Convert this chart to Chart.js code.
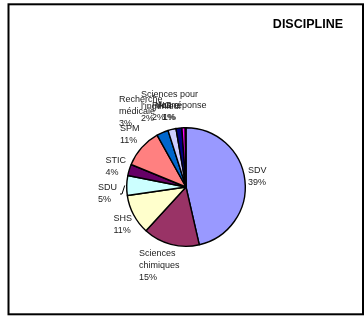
<!DOCTYPE html>
<html>
<head>
<meta charset="utf-8">
<script src="https://cdn.jsdelivr.net/npm/chart.js@4"></script>
<style>
  html, body { margin: 0; padding: 0; background: #fff; }
  #wrap { width: 364px; height: 318px; }
</style>
</head>
<body>
<div id="wrap"><canvas id="c" width="364" height="318"></canvas></div>
<script>
// ---- data ----
const categories = ["SDV", "Sciences\nchimiques", "SHS", "SDU", "STIC", "SPM",
  "Recherche\nmédicale", "Sciences pour\nl'ingénieur", "PNG", "Autre", "Non réponse"];
const sliceValues = [46.4, 15.4, 10.9, 5.4, 3.1, 10.7, 3.2, 2.2, 1.6, 0.9, 0.2];
const percentLabels = ["39%", "15%", "11%", "5%", "4%", "11%", "3%", "2%", "2%", "1%", "1%"];
const chartTitle = "DISCIPLINE";

// ---- styling ----
const sliceColors = ["#9999FF", "#993366", "#FFFFCC", "#CCFFFF", "#660066", "#FF8080",
  "#0066CC", "#CCCCFF", "#000080", "#FF00FF", "#FFFF00"];
// label block placement (left x, first-line y) relative to pie centre
const labelOffsets = [[62, -16], [-47, 67], [-72.5, 32], [-88, 1], [-80.5, -26], [-66, -58],
  [-67, -87], [-45, -92], [-34, -81], [-28, -81], [-31, -81]];
const pctOffsets = [0, 0, 0, 0, 0, 0, 0, 0, 0, 4, 8];
const leaderLines = [false, false, false, true, false, false, false, false, false, false, false];

const decorPlugin = {
  id: 'decor',
  afterDraw(chart) {
    const ctx = chart.ctx;
    ctx.save();
    // frame
    ctx.strokeStyle = '#000';
    ctx.lineWidth = 2;
    ctx.strokeRect(8.5, 4.3, 354.5, 310);
    // title
    ctx.fillStyle = '#000';
    ctx.font = 'bold 12.5px "Liberation Sans", Arial, sans-serif';
    ctx.textAlign = 'right';
    ctx.textBaseline = 'middle';
    ctx.fillText(chartTitle, 343, 25);
    // data labels
    const meta = chart.getDatasetMeta(0);
    ctx.font = '9px "Liberation Sans", Arial, sans-serif';
    ctx.fillStyle = '#222';
    ctx.textAlign = 'left';
    const lh = 11.6;
    meta.data.forEach((arc, i) => {
      const cx = arc.x, cy = arc.y;
      const lx = cx + labelOffsets[i][0];
      const ly = cy + labelOffsets[i][1];
      const lines = categories[i].split('\n');
      lines.forEach((t, k) => ctx.fillText(t, lx, ly + k * lh));
      ctx.fillText(percentLabels[i], lx + pctOffsets[i], ly + lines.length * lh);
      if (leaderLines[i]) {
        const mid = (arc.startAngle + arc.endAngle) / 2;
        const r = arc.outerRadius + 2;
        const w = ctx.measureText(lines[0]).width;
        ctx.strokeStyle = '#000';
        ctx.lineWidth = 1;
        ctx.beginPath();
        ctx.moveTo(lx + w + 3, ly + 6);
        ctx.lineTo(lx + w + 5, ly + 6);
        ctx.lineTo(cx + r * Math.cos(mid), cy + r * Math.sin(mid));
        ctx.stroke();
      }
    });
    ctx.restore();
  }
};

new Chart(document.getElementById('c'), {
  type: 'pie',
  data: {
    labels: categories,
    datasets: [{
      data: sliceValues,
      backgroundColor: sliceColors,
      borderColor: '#000',
      borderWidth: 1.4
    }]
  },
  options: {
    responsive: false,
    animation: false,
    layout: { padding: { left: 126, right: 118, top: 127, bottom: 71 } },
    plugins: {
      legend: { display: false },
      title: { display: false },
      tooltip: { enabled: false }
    }
  },
  plugins: [decorPlugin]
});
</script>
</body>
</html>
